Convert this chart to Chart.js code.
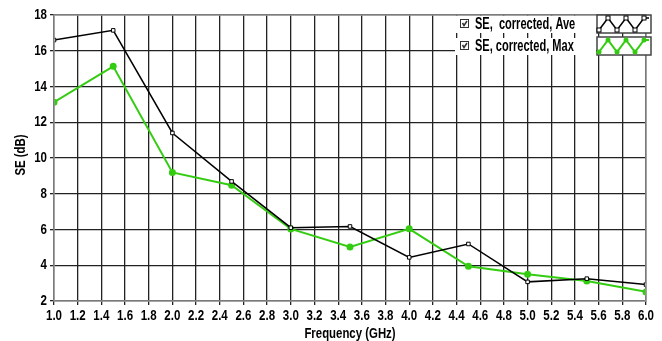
<!DOCTYPE html>
<html>
<head>
<meta charset="utf-8">
<script src="https://cdn.jsdelivr.net/npm/chart.js@4"></script>
<style>
  html, body { margin: 0; padding: 0; background: #fff; }
  #wrap { width: 662px; height: 341px; }
</style>
</head>
<body>
<div id="wrap"><canvas id="seChart" width="662" height="341"></canvas></div>
<script>
// frequency points (GHz)
const freqs = [1.0, 1.5, 2.0, 2.5, 3.0, 3.5, 4.0, 4.5, 5.0, 5.5, 6.0];
// shielding effectiveness, dB
const seAve = [16.6, 17.14, 11.4, 8.69, 6.1, 6.17, 4.44, 5.19, 3.07, 3.25, 2.92];
const seMax = [13.12, 15.13, 9.19, 8.48, 6.03, 5.02, 6.04, 3.94, 3.5, 3.12, 2.51];
const seriesNames = ["SE,  corrected, Ave", "SE, corrected, Max"];
const xTitle = "Frequency (GHz)";
const yTitle = "SE (dB)";

const FONT = "'Liberation Sans', Arial, sans-serif";
const GREEN = "#33cc11";

function toPoints(ys) {
    return freqs.map((f, i) => ({ x: f, y: ys[i] }));
}

// the original uses a narrow bold face -> squeeze horizontally
function narrowText(ctx, text, x, y, align, sx, rot) {
    ctx.save();
    ctx.translate(x, y);
    if (rot) ctx.rotate(rot);
    ctx.scale(sx, 1);
    ctx.textAlign = align;
    ctx.textBaseline = "middle";
    ctx.fillText(text, 0, 0);
    ctx.restore();
}

// tick labels, titles, frame and legend
const textPlugin = {
    id: "narrowText",
    afterDraw(chart) {
        const ctx = chart.ctx;
        const a = chart.chartArea;
        const xs = chart.scales.x, ys = chart.scales.y;
        ctx.save();

        ctx.strokeStyle = "#999";
        ctx.lineWidth = 1.5;
        ctx.strokeRect(a.left, a.top, a.right - a.left, a.bottom - a.top);

        ctx.fillStyle = "#000";
        ctx.font = "bold 15px " + FONT;
        xs.ticks.forEach(t => {
            narrowText(ctx, t.value.toFixed(1), xs.getPixelForValue(t.value), a.bottom + 15, "center", 0.77);
        });
        ys.ticks.forEach(t => {
            narrowText(ctx, String(t.value), a.left - 7, ys.getPixelForValue(t.value), "right", 0.77);
        });
        ctx.font = "bold 15px " + FONT;
        narrowText(ctx, xTitle, (a.left + a.right) / 2, a.bottom + 33, "center", 0.76);
        narrowText(ctx, yTitle, 21, (a.top + a.bottom) / 2 - 3, "center", 0.76, -Math.PI / 2);

        // legend
        const rows = [a.top + 9, a.top + 31];
        ctx.fillStyle = "#fff";
        ctx.fillRect(455, a.top + 1, 141, 17);
        ctx.fillRect(455, a.top + 23, 141, 17);
        chart.data.datasets.forEach((ds, i) => {
            const y = rows[i];
            ctx.strokeStyle = "#333";
            ctx.lineWidth = 1;
            ctx.strokeRect(460.5, y - 4.5, 8, 8);
            ctx.lineWidth = 1.5;
            ctx.beginPath();
            ctx.moveTo(462.5, y - 1);
            ctx.lineTo(464, y + 1.5);
            ctx.lineTo(467, y - 3);
            ctx.stroke();
            ctx.fillStyle = "#000";
            ctx.font = "bold 16px " + FONT;
            narrowText(ctx, seriesNames[i], 475, y + 1, "left", 0.69);

            // swatch
            const bx = 597, by = y - 9, bw = 54, bh = 18;
            ctx.fillStyle = "#fff";
            ctx.fillRect(bx, by, bw, bh);
            ctx.strokeStyle = "#444";
            ctx.lineWidth = 1.5;
            ctx.strokeRect(bx, by, bw, bh);
            const zx = [bx + 2, bx + 11, bx + 20, bx + 29, bx + 38, bx + 47, bx + 52];
            const zy = [by + 15, by + 3, by + 15, by + 3, by + 15, by + 3, by + 3];
            ctx.strokeStyle = ds.borderColor;
            ctx.lineWidth = ds.borderWidth;
            ctx.beginPath();
            zx.forEach((px, k) => k ? ctx.lineTo(px, zy[k]) : ctx.moveTo(px, zy[k]));
            ctx.stroke();
            zx.slice(0, 6).forEach((px, k) => {
                if (i === 0) {
                    ctx.fillStyle = "#fff";
                    ctx.strokeStyle = "#000";
                    ctx.lineWidth = 1;
                    ctx.fillRect(px - 2, zy[k] - 2, 4, 4);
                    ctx.strokeRect(px - 2, zy[k] - 2, 4, 4);
                } else {
                    ctx.fillStyle = GREEN;
                    ctx.beginPath();
                    ctx.arc(px, zy[k], 2.5, 0, Math.PI * 2);
                    ctx.fill();
                }
            });
        });
        ctx.restore();
    }
};

new Chart(document.getElementById("seChart"), {
    type: "line",
    data: {
        datasets: [{
            label: seriesNames[0],
            data: toPoints(seAve),
            borderColor: "#000",
            borderWidth: 1.5,
            pointStyle: "rect",
            pointRadius: 2.5,
            pointBackgroundColor: "#fff",
            pointBorderColor: "#000",
            pointBorderWidth: 1,
            tension: 0
        }, {
            label: seriesNames[1],
            data: toPoints(seMax),
            borderColor: GREEN,
            borderWidth: 2,
            pointStyle: "circle",
            pointRadius: 2.5,
            pointBackgroundColor: GREEN,
            pointBorderColor: GREEN,
            tension: 0
        }]
    },
    options: {
        responsive: false,
        animation: false,
        layout: { padding: { top: 15, right: 16, bottom: 0, left: 0 } },
        plugins: {
            legend: { display: false },
            tooltip: { enabled: false }
        },
        scales: {
            x: {
                type: "linear",
                min: 1, max: 6,
                afterFit: s => { s.height = 40; },
                border: { display: false },
                grid: { color: "#222", lineWidth: 1.3, tickLength: 4 },
                ticks: { stepSize: 0.2, display: false, autoSkip: false }
            },
            y: {
                min: 2, max: 18,
                afterFit: s => { s.width = 54; },
                border: { display: false },
                grid: { color: "#222", lineWidth: 1.3, tickLength: 4 },
                ticks: { stepSize: 2, display: false }
            }
        }
    },
    plugins: [textPlugin]
});
</script>
</body>
</html>
